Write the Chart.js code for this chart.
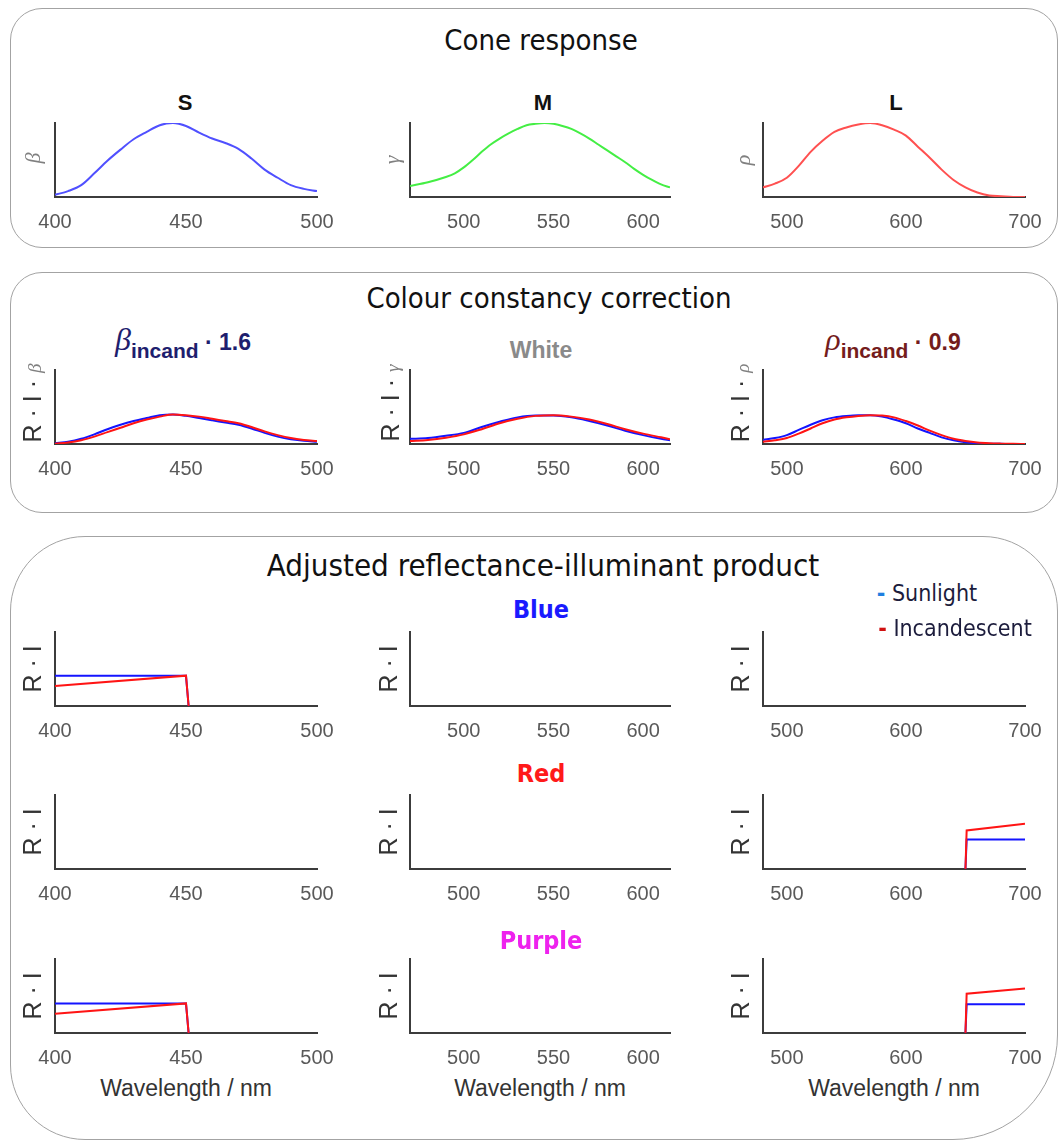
<!DOCTYPE html>
<html>
<head>
<meta charset="utf-8">
<script src="https://cdn.jsdelivr.net/npm/chart.js@4.4.0/dist/chart.umd.min.js"></script>
<style>
  body { margin: 0; background: #fff; }
  #page { position: relative; width: 1063px; height: 1144px; overflow: hidden; background: #fff; }
  .box { position: absolute; border: 1.5px solid #a3a3a3; box-sizing: border-box; }
  .txt { position: absolute; white-space: nowrap; transform: translate(-50%, -50%); line-height: 1; }
  .calib { font-family: 'Liberation Sans Narrow', 'DejaVu Sans Condensed', 'Open Sans', sans-serif; }
  .arial { font-family: 'Liberation Sans', Arial, sans-serif; }
  .greek { font-family: 'Liberation Serif', 'DejaVu Serif', serif; font-style: italic; }
  canvas { position: absolute; }
</style>
</head>
<body>
<div id="page">
  <div class="box" style="left:10px;top:8px;width:1048px;height:240px;border-radius:32px;"></div>
  <div class="box" style="left:10px;top:272px;width:1048px;height:241px;border-radius:32px;"></div>
  <div class="box" style="left:10px;top:536px;width:1048px;height:604px;border-radius:75px 75px 105px 75px;"></div>
</div>
<script>
// ---- data ----
// cone responses
const sWl   = [400, 405, 410, 415, 420, 425, 430, 435, 440, 445, 450, 455, 460, 465, 470, 475, 480, 485, 490, 495, 500];
const sCone = [0.03, 0.08, 0.16, 0.32, 0.49, 0.64, 0.78, 0.88, 0.97, 1.0, 0.96, 0.87, 0.79, 0.73, 0.65, 0.52, 0.37, 0.26, 0.16, 0.11, 0.08];
const mWl   = [470, 480, 490, 495, 500, 505, 510, 515, 520, 525, 530, 535, 540, 545, 550, 555, 560, 565, 570, 575, 580, 585, 590, 595, 600, 605, 610, 615];
const mCone = [0.15, 0.2, 0.27, 0.32, 0.40, 0.50, 0.61, 0.71, 0.79, 0.86, 0.92, 0.97, 0.99, 1.0, 0.99, 0.96, 0.92, 0.86, 0.79, 0.71, 0.63, 0.55, 0.47, 0.38, 0.30, 0.23, 0.17, 0.13];
const lWl   = [480, 490, 500, 510, 520, 530, 540, 550, 560, 570, 580, 590, 600, 610, 620, 630, 640, 650, 660, 670, 680, 690, 700];
const lCone = [0.13, 0.18, 0.26, 0.42, 0.61, 0.76, 0.88, 0.94, 0.98, 1.0, 0.97, 0.91, 0.83, 0.68, 0.53, 0.37, 0.23, 0.13, 0.06, 0.02, 0.01, 0.0, 0.0];

// colour constancy correction (R·I·cone)
const sSun = [0.01, 0.03, 0.07, 0.13, 0.20, 0.26, 0.31, 0.35, 0.39, 0.40, 0.38, 0.35, 0.32, 0.29, 0.26, 0.21, 0.15, 0.10, 0.065, 0.045, 0.03];
const sInc = [0.005, 0.02, 0.05, 0.10, 0.16, 0.22, 0.28, 0.33, 0.37, 0.40, 0.39, 0.37, 0.34, 0.31, 0.28, 0.23, 0.17, 0.12, 0.08, 0.055, 0.04];
const mWl2 = [470, 480, 490, 500, 510, 520, 530, 540, 550, 560, 570, 580, 590, 600, 610, 615];
const mSun = [0.07, 0.08, 0.11, 0.15, 0.23, 0.30, 0.36, 0.385, 0.385, 0.36, 0.31, 0.25, 0.18, 0.12, 0.07, 0.05];
const mInc = [0.04, 0.055, 0.085, 0.13, 0.20, 0.28, 0.34, 0.38, 0.39, 0.37, 0.33, 0.27, 0.20, 0.14, 0.09, 0.065];
const lSun = [0.055, 0.08, 0.12, 0.19, 0.26, 0.32, 0.36, 0.38, 0.39, 0.39, 0.37, 0.33, 0.28, 0.21, 0.15, 0.09, 0.05, 0.025, 0.01, 0.004, 0.002, 0.0, 0.0];
const lInc = [0.03, 0.05, 0.08, 0.14, 0.21, 0.28, 0.33, 0.36, 0.38, 0.39, 0.385, 0.36, 0.31, 0.25, 0.18, 0.12, 0.07, 0.04, 0.02, 0.01, 0.005, 0.002, 0.0];

// adjusted reflectance-illuminant product
const shortWl = [400, 450, 451];
const longWl  = [650, 651, 700];
const blueSun   = [0.41, 0.41, 0];
const blueInc   = [0.27, 0.41, 0];
const redSun    = [0, 0.40, 0.40];
const redInc    = [0, 0.52, 0.61];
const purpleSunS = [0.40, 0.40, 0];
const purpleIncS = [0.26, 0.40, 0];
const purpleSunL = [0, 0.39, 0.39];
const purpleIncL = [0, 0.53, 0.60];

// axes
const xTicksS = [400, 450, 500];
const xTicksM = [500, 550, 600];
const xTicksL = [500, 600, 700];

// ---- layout ----
const page = document.getElementById('page');
const cols = [
  { left: 55,  width: 262, min: 400, max: 500, ticks: xTicksS, cx: 186 },
  { left: 410, width: 260, min: 470, max: 615, ticks: xTicksM, cx: 540 },
  { left: 763, width: 262, min: 480, max: 700, ticks: xTicksL, cx: 894 }
];
const rowTops = [123, 370, 632, 795, 959];
const plotH = 74;
const sunCol = '#1414ff', incCol = '#ff1414';

function addText(html, x, y, cls, style, rot) {
  const d = document.createElement('div');
  d.className = 'txt ' + (cls || '');
  d.innerHTML = html;
  d.style.left = x + 'px';
  d.style.top = y + 'px';
  if (style) d.style.cssText += style;
  if (rot) d.style.transform = 'translate(-50%, -50%) rotate(-90deg)';
  page.appendChild(d);
}

function series(x, y, color, smooth) {
  return {
    data: x.map((v, i) => ({ x: v, y: y[i] })),
    borderColor: color,
    borderWidth: 2,
    pointRadius: 0,
    fill: false,
    cubicInterpolationMode: smooth ? 'monotone' : 'default',
    tension: 0
  };
}

function drawPanel(row, col, datasets) {
  const c = cols[col];
  const padL = 30, padR = 30, padT = 6, axisH = 40;
  const cv = document.createElement('canvas');
  cv.width = c.width + padL + padR;
  cv.height = padT + plotH + axisH;
  cv.style.left = (c.left - padL) + 'px';
  cv.style.top = (rowTops[row] - padT) + 'px';
  page.appendChild(cv);
  new Chart(cv, {
    type: 'line',
    data: { datasets: datasets },
    options: {
      responsive: false,
      animation: false,
      events: [],
      layout: { padding: { left: padL, right: padR, top: padT, bottom: 0 } },
      plugins: { legend: { display: false }, tooltip: { enabled: false } },
      scales: {
        x: {
          type: 'linear', min: c.min, max: c.max,
          afterBuildTicks: s => { s.ticks = c.ticks.map(v => ({ value: v })); },
          afterFit: s => { s.height = axisH; },
          grid: { display: false, drawTicks: false },
          border: { color: '#3c3c3c', width: 2 },
          ticks: { padding: 13, color: '#595959', font: { family: 'Liberation Sans', size: 20 } }
        },
        y: {
          min: 0, max: 1,
          afterFit: s => { s.width = 0; },
          ticks: { display: false },
          grid: { display: false, drawTicks: false },
          border: { color: '#3c3c3c', width: 2 }
        }
      }
    }
  });
}

// row 1: cone response
drawPanel(0, 0, [series(sWl, sCone, '#5050ff', true)]);
drawPanel(0, 1, [series(mWl, mCone, '#44ee44', true)]);
drawPanel(0, 2, [series(lWl, lCone, '#ff5050', true)]);
// row 2: colour constancy correction
drawPanel(1, 0, [series(sWl, sInc, incCol, true), series(sWl, sSun, sunCol, true)]);
drawPanel(1, 1, [series(mWl2, mInc, incCol, true), series(mWl2, mSun, sunCol, true)]);
drawPanel(1, 2, [series(lWl, lInc, incCol, true), series(lWl, lSun, sunCol, true)]);
// row 3: blue
drawPanel(2, 0, [series(shortWl, blueInc, incCol), series(shortWl, blueSun, sunCol)]);
drawPanel(2, 1, []);
drawPanel(2, 2, []);
// row 4: red
drawPanel(3, 0, []);
drawPanel(3, 1, []);
drawPanel(3, 2, [series(longWl, redInc, incCol), series(longWl, redSun, sunCol)]);
// row 5: purple
drawPanel(4, 0, [series(shortWl, purpleIncS, incCol), series(shortWl, purpleSunS, sunCol)]);
drawPanel(4, 1, []);
drawPanel(4, 2, [series(longWl, purpleIncL, incCol), series(longWl, purpleSunL, sunCol)]);

// ---- text ----
addText('Cone response', 541, 40, 'calib', 'font-size:29px;color:#111;');
addText('Colour constancy correction', 549, 298, 'calib', 'font-size:29px;color:#111;');
addText('Adjusted reflectance-illuminant product', 543, 565, 'calib', 'font-size:31px;color:#111;');

addText('S', 185, 103, 'arial', 'font-size:22px;font-weight:bold;color:#111;');
addText('M', 543, 103, 'arial', 'font-size:22px;font-weight:bold;color:#111;');
addText('L', 896, 103, 'arial', 'font-size:22px;font-weight:bold;color:#111;');

const subSty = 'font-size:23px;font-weight:bold;';
addText('<span class="greek" style="font-size:32px;font-weight:normal;">β</span><sub style="font-size:21px;vertical-align:-8px;">incand</sub> · 1.6', 183, 342, 'arial', subSty + 'color:#1e1e6e;');
addText('White', 541, 350, 'arial', subSty + 'color:#8a8a8a;');
addText('<span class="greek" style="font-size:32px;font-weight:normal;">ρ</span><sub style="font-size:21px;vertical-align:-8px;">incand</sub> · 0.9', 893, 342, 'arial', subSty + 'color:#741c1c;');

addText('Blue', 541, 609, 'calib', 'font-size:25px;font-weight:bold;color:#1a1aff;');
addText('Red', 541, 773, 'calib', 'font-size:25px;font-weight:bold;color:#ff1a1a;');
addText('Purple', 541, 940, 'calib', 'font-size:25px;font-weight:bold;color:#ee22ee;');

// legend
addText('<span style="color:#1f7fe0;font-weight:bold;">-</span> Sunlight', 927, 593, 'calib', 'font-size:23px;color:#1c1c3c;');
addText('<span style="color:#d01010;font-weight:bold;">-</span> Incandescent', 955, 628, 'calib', 'font-size:23px;color:#1c1c3c;');

// y labels
const greekSty = 'font-size:22px;color:#808080;';
addText('β', 33, 158, 'greek', greekSty, true);
addText('γ', 392, 160, 'greek', greekSty, true);
addText('ρ', 743, 160, 'greek', greekSty, true);

const riSty = 'font-size:25px;color:#333;';
const gSmall = '<span class="greek" style="font-size:19px;color:#808080;">';
addText('R · I · ' + gSmall + 'β</span>', 32, 403, 'arial', riSty, true);
addText('R · I · ' + gSmall + 'γ</span>', 390, 403, 'arial', riSty, true);
addText('R · I · ' + gSmall + 'ρ</span>', 740, 403, 'arial', riSty, true);

[2, 3, 4].forEach(r => {
  const cy = rowTops[r] + plotH / 2;
  addText('R · I', 32, cy, 'arial', riSty, true);
  addText('R · I', 388, cy, 'arial', riSty, true);
  addText('R · I', 740, cy, 'arial', riSty, true);
});

cols.forEach(c => addText('Wavelength / nm', c.cx, 1088, 'arial', 'font-size:23px;color:#333;'));
</script>
</body>
</html>
